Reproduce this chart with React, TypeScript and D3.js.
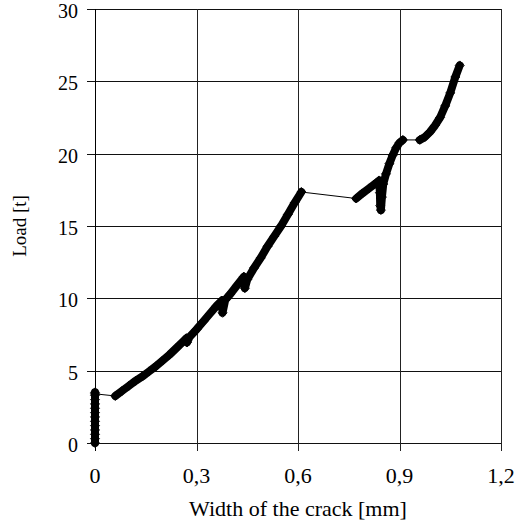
import React from "react";
import * as d3 from "d3";

// Load vs crack width — measured series, split into continuous runs
const runInitial: [number, number][] = [
  [0, 0], [0, 0.3], [0, 0.6], [0, 0.9], [0, 1.2], [0, 1.5], [0, 1.8], [0, 2.1],
  [0, 2.4], [0, 2.7], [0, 3.0], [0, 3.3], [0, 3.5], [0, 3.4],
];
const runMain: [number, number][] = [
  [0.06, 3.25], [0.08, 3.6], [0.1, 3.95], [0.12, 4.3], [0.14, 4.6], [0.16, 4.95],
  [0.18, 5.3], [0.2, 5.7], [0.22, 6.1], [0.24, 6.55], [0.26, 7.0], [0.27, 7.25],
  [0.272, 6.95], [0.28, 7.35], [0.3, 7.85], [0.32, 8.4], [0.34, 8.95], [0.36, 9.5],
  [0.375, 9.85], [0.377, 9.0], [0.385, 9.9], [0.4, 10.3], [0.42, 10.9], [0.44, 11.5],
  [0.443, 10.7], [0.45, 11.3], [0.47, 12.1], [0.49, 12.8], [0.51, 13.6], [0.53, 14.3],
  [0.55, 15.0], [0.57, 15.8], [0.59, 16.6], [0.61, 17.35],
];
const runSecond: [number, number][] = [
  [0.772, 16.9], [0.79, 17.25], [0.81, 17.6], [0.83, 17.95], [0.84, 18.15],
  [0.842, 17.3], [0.843, 16.4], [0.845, 16.1], [0.848, 17.0], [0.852, 17.9],
  [0.86, 18.6], [0.87, 19.3], [0.88, 19.9], [0.89, 20.4], [0.9, 20.75], [0.91, 20.95],
];
const runThird: [number, number][] = [
  [0.96, 20.95], [0.975, 21.15], [0.99, 21.5], [1.005, 21.95], [1.02, 22.5],
  [1.035, 23.3], [1.05, 24.2], [1.065, 25.3], [1.078, 26.1],
];
const runs = [runInitial, runMain, runSecond, runThird];

const xTicks = [0, 0.3, 0.6, 0.9, 1.2];
const xTickLabels = ["0", "0,3", "0,6", "0,9", "1,2"];
const yTicks = [0, 5, 10, 15, 20, 25, 30];
const xTitle = "Width of the crack [mm]";
const yTitle = "Load [t]";

const W = 531;
const H = 527;
const M = { left: 95, right: 30, top: 9, bottom: 84 };

export default function App() {
  const x = d3.scaleLinear().domain([0, 1.2]).range([M.left, W - M.right]);
  const y = d3.scaleLinear().domain([0, 30]).range([H - M.bottom, M.top]);
  const line = d3
    .line<[number, number]>()
    .x((d) => x(d[0]))
    .y((d) => y(d[1]));

  const connectors: [number, number][][] = [];
  for (let i = 0; i < runs.length - 1; i++) {
    connectors.push([runs[i][runs[i].length - 1], runs[i + 1][0]]);
  }
  const allPts = runs.flat();
  const diamond = (cx: number, cy: number, r: number) =>
    `M${cx},${cy - r}L${cx + r},${cy}L${cx},${cy + r}L${cx - r},${cy}Z`;

  const font = "'Liberation Serif', 'Times New Roman', serif";
  const x0 = x(0);
  const x1 = x(1.2);
  const yb = y(0);
  const yt = y(30);

  return (
    <svg
      width={W}
      height={H}
      style={{ position: "absolute", left: 0, top: 0, background: "#fff" }}
      fontFamily={font}
    >
      <rect width={W} height={H} fill="#fff" />
      {yTicks.map((t) => (
        <line
          key={"h" + t}
          x1={x0 - 8}
          x2={x1}
          y1={Math.round(y(t)) + 0.5}
          y2={Math.round(y(t)) + 0.5}
          stroke="#111"
          strokeWidth={1}
        />
      ))}
      {xTicks.slice(1).map((t) => (
        <line
          key={"v" + t}
          x1={Math.round(x(t)) + 0.5}
          x2={Math.round(x(t)) + 0.5}
          y1={yt}
          y2={yb + 8}
          stroke="#222"
          strokeWidth={1}
        />
      ))}
      <line
        x1={Math.round(x0) + 0.5}
        x2={Math.round(x0) + 0.5}
        y1={yt}
        y2={yb + 8}
        stroke="#000"
        strokeWidth={1}
      />
      {yTicks.map((t) => (
        <text
          key={"yl" + t}
          x={x0 - 17}
          y={y(t) + 9}
          textAnchor="end"
          fontSize={20}
          fill="#000"
        >
          {t}
        </text>
      ))}
      {xTicks.map((t, i) => (
        <text
          key={"xl" + t}
          x={x(t)}
          y={yb + 40}
          textAnchor="middle"
          fontSize={22}
          fill="#000"
        >
          {xTickLabels[i]}
        </text>
      ))}
      <text
        x={(x0 + x1) / 2}
        y={yb + 73}
        textAnchor="middle"
        fontSize={22}
        fill="#000"
      >
        {xTitle}
      </text>
      <text
        transform={`translate(26,${(yt + yb) / 2}) rotate(-90)`}
        textAnchor="middle"
        fontSize={19}
        fill="#000"
      >
        {yTitle}
      </text>
      {connectors.map((c, i) => (
        <path key={"c" + i} d={line(c) || ""} fill="none" stroke="#000" strokeWidth={1} />
      ))}
      {runs.map((r, i) => (
        <path
          key={"r" + i}
          d={line(r) || ""}
          fill="none"
          stroke="#000"
          strokeWidth={8}
          strokeLinejoin="round"
          strokeLinecap="round"
        />
      ))}
      {allPts.map((p, i) => (
        <path
          key={"m" + i}
          d={diamond(x(p[0]), y(p[1]), 4.5)}
          fill="none"
          stroke="#000"
          strokeWidth={1}
        />
      ))}
    </svg>
  );
}
